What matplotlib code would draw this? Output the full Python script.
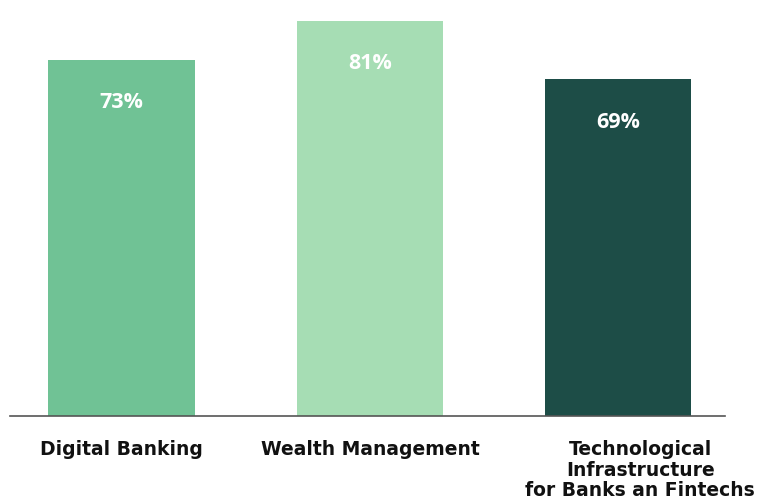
import matplotlib
matplotlib.use("Agg")
import matplotlib.pyplot as plt
import matplotlib.transforms as mtransforms

categories = ["Digital Banking", "Wealth Management",
              "Technological\nInfrastructure\nfor Banks an Fintechs"]
values = [73, 81, 69]
labels = ["73%", "81%", "69%"]
colors = ["#70C295", "#A6DDB4", "#1D4D47"]

plt.rcParams['font.family'] = ['Open Sans', 'DejaVu Sans']

fig = plt.figure(figsize=(7.59, 5.0), dpi=100)
ax = fig.add_axes([10/759, 1 - 416/500, (725 - 10)/759, 416/500])

x = list(range(len(categories)))
ax.bar(x, values, width=0.59, color=colors, zorder=2)
ax.set_xlim(-0.45, 2.43)
ax.set_ylim(0, 85.2)

for xi, v, lab in zip(x, values, labels):
    ax.annotate(lab, xy=(xi, v), xytext=(0, -31), textcoords='offset points',
                ha='center', va='center', color='white', fontsize=15.5,
                fontweight='bold')

for s in ['top', 'right', 'left']:
    ax.spines[s].set_visible(False)
ax.spines['bottom'].set_color('#555555')
ax.spines['bottom'].set_linewidth(1.2)
ax.set_yticks([])
ax.set_xticks(x)
ax.set_xticklabels(categories, fontsize=13.5, fontweight='bold', color='#111111',
                   linespacing=1.09, va='top', family=['DejaVu Sans'])
ax.tick_params(axis='x', length=0, pad=17.5)
tl = ax.get_xticklabels()[2]
tl.set_transform(tl.get_transform() + mtransforms.ScaledTranslation(22/100, 0, fig.dpi_scale_trans))

fig.savefig("out.png", dpi=100)
